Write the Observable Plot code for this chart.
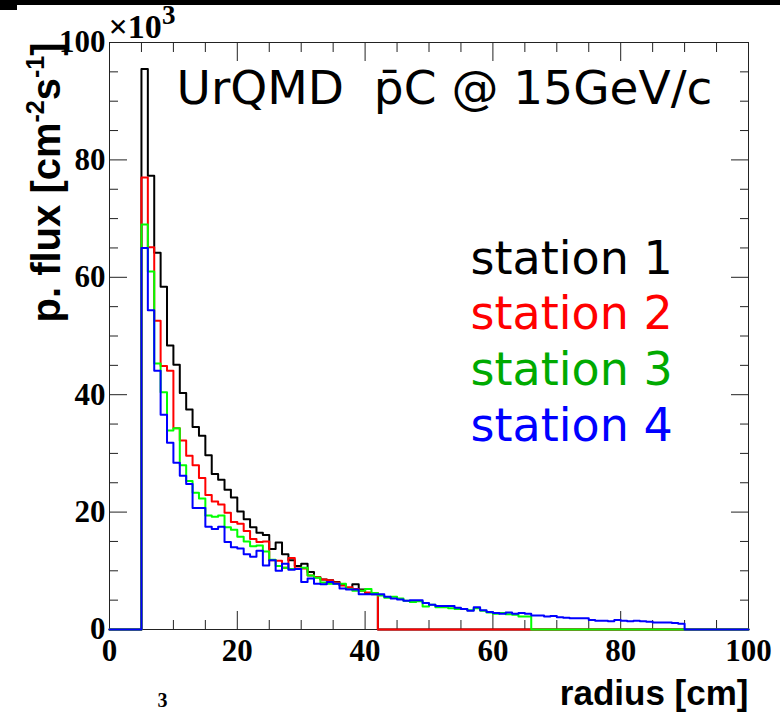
<!DOCTYPE html>
<html>
<head>
<meta charset="utf-8">
<script src="https://cdn.jsdelivr.net/npm/d3@7"></script>
<script src="https://cdn.jsdelivr.net/npm/@observablehq/plot@0.6"></script>
<style>
  html, body { margin: 0; padding: 0; background: #fff; overflow: hidden; }
  #wrap { position: relative; width: 780px; height: 712px; overflow: hidden; }
  #padEdge { position: absolute; left: 0; top: 0; width: 780px; height: 5px; background: #000; }
  #padCorner { position: absolute; left: 0; top: 5px; width: 17px; height: 5px; background: #000; }
</style>
</head>
<body>
<div id="wrap"><div id="chart"></div><div id="padEdge"></div><div id="padCorner"></div></div>
<script>
// Proton flux per radial bin (units of 10^3 cm^-2 s^-1), 1 cm bins starting at 5 cm.
const binStart = 5;
const binWidth = 1;
const station1 = [95.5, 77.3, 64.2, 58.4, 48.4, 45.1, 40.3, 37.5, 34.5, 33.0, 29.7, 26.5, 25.5, 23.8, 22.5,
  20.1, 18.8, 17.4, 16.5, 16.1, 13.7, 14.8, 12.8, 11.8, 10.8, 11.2, 9.8, 8.9, 8.5, 8.4, 8.1, 7.6, 6.9, 7.7,
  6.8, 6.2, 6.0];
const station2 = [77.0, 65.1, 52.6, 44.9, 44.1, 34.3, 32.2, 29.6, 28.0, 25.8, 22.9, 21.8, 21.3, 19.9, 18.3,
  18.0, 16.8, 15.4, 14.9, 15.0, 11.8, 11.7, 10.5, 12.2, 10.4, 10.4, 9.2, 8.9, 8.5, 8.4, 8.0, 7.5, 7.2, 6.9,
  6.6, 6.3, 6.2];
const station3 = [69.0, 61.0, 45.3, 40.4, 33.9, 34.3, 28.0, 25.3, 23.3, 22.3, 19.4, 19.2, 19.4, 17.4, 17.0,
  15.8, 15.0, 14.2, 14.3, 13.3, 11.9, 10.8, 10.5, 10.3, 10.3, 10.5, 9.2, 8.8, 8.0, 7.8, 7.8, 7.8, 6.9, 6.6,
  6.6, 6.9, 6.2, 5.8, 5.4, 5.6, 5.3, 4.9, 4.7, 4.8, 3.9, 4.2, 3.8, 3.8, 3.6, 3.5, 3.5, 3.3, 3.6, 3.2, 2.9,
  2.7, 2.8, 2.6, 2.5, 2.2, 2.2];
const station4 = [65.0, 54.4, 44.1, 36.6, 31.8, 28.4, 26.2, 24.8, 20.7, 20.7, 17.5, 17.1, 17.5, 14.9, 14.0,
  13.8, 12.8, 12.4, 13.4, 10.9, 11.8, 10.0, 11.2, 10.2, 10.3, 8.1, 8.7, 7.8, 7.7, 8.1, 7.8, 7.0, 6.8, 6.8,
  6.0, 6.0, 6.0, 6.0, 5.6, 5.3, 5.1, 4.9, 5.0, 5.0, 4.5, 4.2, 4.0, 4.0, 4.0, 3.7, 3.5, 3.2, 3.8, 3.3, 3.0,
  2.8, 2.7, 2.9, 2.7, 2.8, 2.7, 2.4, 2.4, 2.2, 2.3, 2.1, 2.0, 1.9, 1.9, 1.9, 1.6, 1.5, 1.5, 1.4, 1.6, 1.5,
  1.4, 1.5, 1.4, 1.3, 1.2, 1.2, 1.2, 1.1, 1.0];

const stationNames = ["station 1", "station 2", "station 3", "station 4"];
const lineColors = ["#000000", "#ff0000", "#00ff00", "#0000ff"];
const labelColors = ["#000000", "#ff0000", "#00aa00", "#0000ff"];

const xRange = [0, 100];
const yRange = [0, 100];
const xLabelTicks = [0, 20, 40, 60, 80, 100];
const yLabelTicks = [0, 20, 40, 60, 80, 100];
const minorStep = 5;

const titleText = "UrQMD  p\u0304C @ 15GeV/c";
const xTitle = "radius [cm]";
const yTitle = "p. flux [cm-2s-1]";
const multiplier = "\u00d710";

// Full-range histogram (zero outside the filled bins), as step points.
function histogram(values, name) {
  const pts = d3.range(xRange[0], xRange[1], binWidth).map(r => {
    const i = Math.round((r - binStart) / binWidth);
    return {station: name, r, flux: i >= 0 && i < values.length ? values[i] : 0};
  });
  pts.push({station: name, r: xRange[1], flux: pts[pts.length - 1].flux});
  return pts;
}
const series = [station1, station2, station3, station4].map((v, i) => histogram(v, stationNames[i]));

const minorX = d3.range(xRange[0], xRange[1] + 1, minorStep).filter(t => !xLabelTicks.includes(t));
const minorY = d3.range(yRange[0], yRange[1] + 1, minorStep).filter(t => !yLabelTicks.includes(t));

const W = 780, H = 712;
const mL = 109, mR = 32, mT = 42, mB = 83;
const majorLen = 18, minorLen = 9;
const tickColor = "#222";
const labelFont = {fontFamily: "Liberation Serif", fontWeight: "bold", fontSize: 31, fill: "#000"};

// Inward-pointing ticks on all four sides of the frame.
const tickAxes = [];
for (const anchor of ["bottom", "top"]) {
  tickAxes.push(Plot.axisX(xLabelTicks, {anchor, tickSize: -majorLen, fill: "none", stroke: tickColor, label: null}));
  tickAxes.push(Plot.axisX(minorX, {anchor, tickSize: -minorLen, fill: "none", stroke: tickColor, label: null}));
}
for (const anchor of ["left", "right"]) {
  tickAxes.push(Plot.axisY(yLabelTicks, {anchor, tickSize: -majorLen, fill: "none", stroke: tickColor, label: null}));
  tickAxes.push(Plot.axisY(minorY, {anchor, tickSize: -minorLen, fill: "none", stroke: tickColor, label: null}));
}

const legendMarks = stationNames.map((name, i) => Plot.text([name], {
  text: d => d, frameAnchor: "top-left", dx: 470 - mL, dy: 273 - mT + i * 55.7,
  textAnchor: "start", lineAnchor: "bottom",
  fontFamily: "DejaVu Sans", fontSize: 46, fill: labelColors[i]
}));

const chart = Plot.plot({
  width: W, height: H,
  marginLeft: mL, marginRight: mR, marginTop: mT, marginBottom: mB,
  style: {background: "#fff", overflow: "hidden"},
  x: {domain: xRange},
  y: {domain: yRange},
  marks: [
    Plot.frame({stroke: tickColor, strokeWidth: 1}),
    ...tickAxes,
    Plot.axisX(xLabelTicks, {anchor: "bottom", tickSize: 0, tickPadding: 9, stroke: "none", label: null, ...labelFont}),
    Plot.axisY(yLabelTicks, {anchor: "left", tickSize: 0, tickPadding: 4, stroke: "none", label: null, ...labelFont}),
    ...series.map((s, i) => Plot.line(s, {x: "r", y: "flux", curve: "step-after", stroke: lineColors[i], strokeWidth: 2})),
    Plot.text([titleText], {text: d => d, frameAnchor: "top-left", dx: 176 - mL, dy: 103 - mT,
      textAnchor: "start", lineAnchor: "bottom", fontFamily: "DejaVu Sans", fontSize: 47, fill: "#000"}),
    ...legendMarks,
    Plot.text([yTitle], {text: d => d, frameAnchor: "top-left", dx: 47 - mL, dy: 322 - mT, rotate: -90,
      textAnchor: "start", lineAnchor: "middle", fontFamily: "Liberation Sans", fontWeight: "bold", fontSize: 40, fill: "#000"}),
    Plot.text([multiplier], {text: d => d, frameAnchor: "top-left", dx: 108 - mL, dy: 37 - mT,
      textAnchor: "start", lineAnchor: "bottom", fontFamily: "Liberation Serif", fontWeight: "bold", fontSize: 34, fill: "#000"}),
    Plot.text([xTitle], {text: d => d, frameAnchor: "bottom-right", dx: 0, dy: 704 - (H - mB),
      textAnchor: "end", lineAnchor: "bottom", fontFamily: "Liberation Sans", fontWeight: "bold", fontSize: 35, fill: "#000"}),
    Plot.text(["3"], {text: d => d, frameAnchor: "bottom-left", dx: 157 - mL, dy: 706 - (H - mB),
      textAnchor: "start", lineAnchor: "bottom", fontFamily: "Liberation Serif", fontWeight: "bold", fontSize: 20, fill: "#000"})
  ]
});

// Superscripts in the unit label and the axis multiplier.
const svg = d3.select(chart);
function richText(content, parts, fontSize, supScale, raise) {
  svg.selectAll("text").filter(function() { return this.textContent === content; }).each(function() {
    const t = d3.select(this);
    t.text(null);
    let raised = false;
    const shift = raise * fontSize;
    for (const p of parts) {
      const ts = t.append("tspan").text(p.t);
      if (p.sup) ts.attr("font-size", Math.round(fontSize * supScale));
      if (p.sup && !raised) { ts.attr("dy", -shift); raised = true; }
      else if (!p.sup && raised) { ts.attr("dy", shift); raised = false; }
    }
  });
}
richText(yTitle, [{t: "p. flux [cm"}, {t: "-2", sup: true}, {t: "s"}, {t: "-1", sup: true}, {t: "]"}], 40, 0.62, 0.42);
richText(multiplier, [{t: multiplier}, {t: "3", sup: true}], 34, 0.8, 0.4);

document.getElementById("chart").append(chart);
</script>
</body>
</html>
